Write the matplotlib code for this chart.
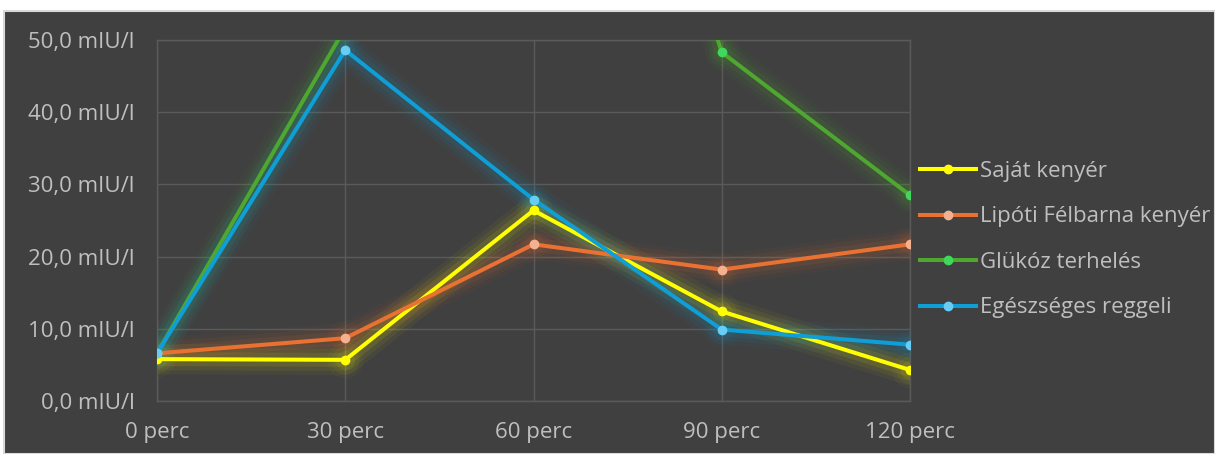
import matplotlib
matplotlib.use("Agg")
import matplotlib.pyplot as plt
from matplotlib.patches import Rectangle
from matplotlib.ticker import FuncFormatter

plt.rcParams['font.family'] = ['Open Sans', 'DejaVu Sans']

# Inzulinszint a terhelés után (mIU/l)
times = ["0 perc", "30 perc", "60 perc", "90 perc", "120 perc"]
sajat = [5.8, 5.7, 26.4, 12.4, 4.3]
lipoti = [6.6, 8.7, 21.7, 18.2, 21.7]
glukoz = [6.6, 51.7, 130.0, 48.3, 28.5]
egeszseges = [6.6, 48.6, 27.9, 9.9, 7.8]

series = [
    ("Saját kenyér", sajat, "#ffff00", "#ffff00"),
    ("Lipóti Félbarna kenyér", lipoti, "#e97132", "#f4b08f"),
    ("Glükóz terhelés", glukoz, "#4ea72e", "#3fd85a"),
    ("Egészséges reggeli", egeszseges, "#0f9ed5", "#67cdf5"),
]

bg = "#404040"
grid_c = "#5a5a5a"
text_c = "#bfbfbf"
fs = 16

fig = plt.figure(figsize=(12.15, 4.54), dpi=100, facecolor="white")
# dark chart area with thin light border
fig.patches.append(Rectangle((4 / 1215, 0), 1 - 4 / 1215, (454 - 11) / 454,
                             transform=fig.transFigure, facecolor=bg,
                             edgecolor="#d9d9d9", linewidth=1.5, zorder=-10))

ax = fig.add_axes([157 / 1215, (454 - 401) / 454, (910 - 157) / 1215, (401 - 40) / 454])
ax.set_facecolor("none")

x = list(range(len(times)))
handles = []
for i, (name, vals, color, mcolor) in enumerate(series):
    # soft glow underneath each line
    for lw, a in [(22, 0.04), (16, 0.06), (10, 0.09)]:
        ax.plot(x, vals, color=color, linewidth=lw, alpha=a,
                solid_capstyle="round", solid_joinstyle="round", zorder=2 + i)
        ax.plot(x, vals, linestyle="none", marker="o", markersize=lw + 4,
                color=color, alpha=a * 0.8, markeredgewidth=0, zorder=2 + i)
    line, = ax.plot(x, vals, color=color, linewidth=2.9, marker="o", markersize=6,
                    markerfacecolor=mcolor, markeredgecolor=mcolor,
                    solid_joinstyle="round", zorder=6 + i, label=name)
    handles.append(line)

ax.set_xlim(0, 4)
ax.set_ylim(0, 50)
ax.set_xticks(x)
ax.set_xticklabels(times)
ax.set_yticks([0, 10, 20, 30, 40, 50])
ax.yaxis.set_major_formatter(FuncFormatter(lambda v, p: f"{v:.1f}".replace(".", ",") + " mIU/l"))
ax.tick_params(axis="both", length=0, labelsize=fs, labelcolor=text_c)
ax.tick_params(axis="y", pad=16)
ax.tick_params(axis="x", pad=15)
ax.grid(True, color=grid_c, linewidth=1)
for s in ax.spines.values():
    s.set_color(grid_c)
    s.set_linewidth(1)

leg = fig.legend(handles, [s[0] for s in series], loc="upper left",
                 bbox_to_anchor=(920 / 1215, (454 - 161) / 454),
                 frameon=False, fontsize=fs, labelcolor=text_c,
                 handlelength=2.5, handletextpad=0.18, labelspacing=1.1,
                 borderaxespad=0, borderpad=0)

fig.savefig("out.png", dpi=100, facecolor=fig.get_facecolor())
